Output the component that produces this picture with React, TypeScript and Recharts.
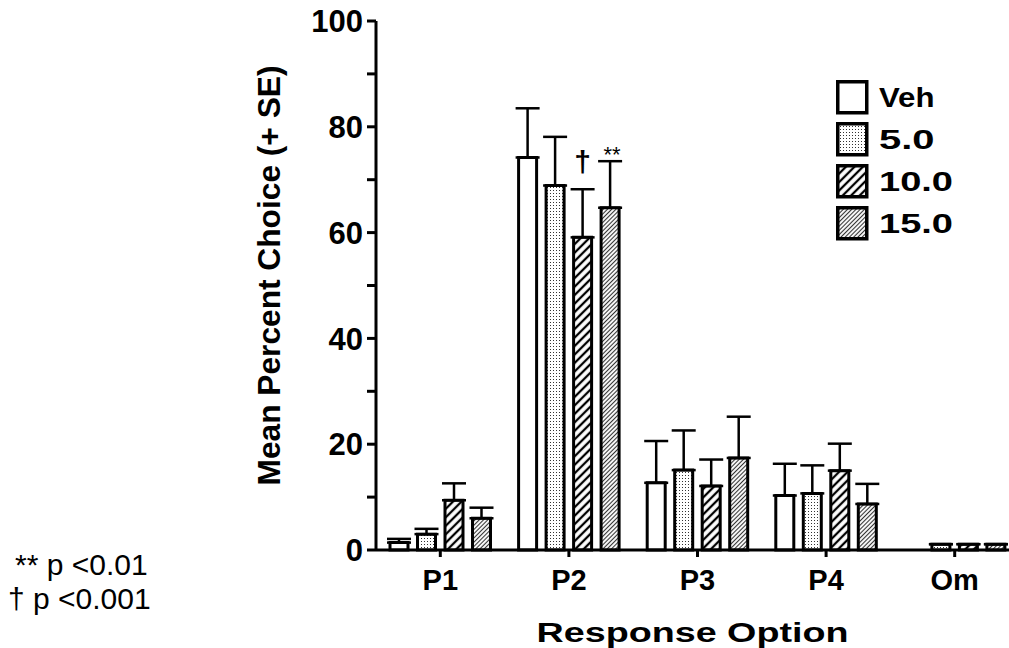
import React from 'react';
import { BarChart, Bar, XAxis, YAxis, ErrorBar } from 'recharts';

const categories = ['P1', 'P2', 'P3', 'P4', 'Om'];
const vehMean = [1.4, 74.2, 12.7, 10.3, null];
const vehSE = [0.7, 9.3, 7.9, 6.0, null];
const d5Mean = [3.0, 68.9, 15.1, 10.7, 1.1];
const d5SE = [1.0, 9.2, 7.5, 5.3, 0];
const d10Mean = [9.4, 59.1, 12.1, 15.0, 1.1];
const d10SE = [3.2, 9.1, 5.0, 5.1, 0];
const d15Mean = [6.0, 64.7, 17.4, 8.7, 1.1];
const d15SE = [2.0, 8.8, 7.8, 3.8, 0];
const d10Notes = ['', '†', '', '', ''];
const d15Notes = ['', '**', '', '', ''];
const yTicks = [0, 10, 20, 30, 40, 50, 60, 70, 80, 90, 100];

const seriesInfo = [
  { key: 'veh', name: 'Veh', fill: '#ffffff' },
  { key: 'd5', name: '5.0', fill: 'url(#dots)' },
  { key: 'd10', name: '10.0', fill: 'url(#hatchWide)' },
  { key: 'd15', name: '15.0', fill: 'url(#hatchFine)' },
];

const data = categories.map((name, i) => ({
  name,
  veh: vehMean[i],
  vehErr: vehSE[i] == null ? null : [0, vehSE[i]],
  d5: d5Mean[i],
  d5Err: [0, d5SE[i]],
  d10: d10Mean[i],
  d10Err: [0, d10SE[i]],
  d15: d15Mean[i],
  d15Err: [0, d15SE[i]],
}));

const FONT = '"Liberation Sans", Arial, sans-serif';

function YTick(props: any) {
  const { x, y, payload } = props;
  if (payload.value % 20 !== 0) return <g />;
  return (
    <text x={x - 2} y={y} dy="0.36em" textAnchor="end" fontFamily={FONT} fontWeight="bold" fontSize={31} fill="#000">
      {payload.value}
    </text>
  );
}

function XTick(props: any) {
  const { x, y, payload } = props;
  return (
    <text x={x} y={y + 31} textAnchor="middle" fontFamily={FONT} fontWeight="bold" fontSize={29} fill="#000">
      {payload.value}
    </text>
  );
}

function YTitle(props: any) {
  const { viewBox } = props;
  const cx = viewBox.x - 16;
  const cy = viewBox.y + viewBox.height / 2 - 10;
  return (
    <text
      x={cx}
      y={cy}
      transform={`rotate(-90 ${cx} ${cy})`}
      textAnchor="middle"
      fontFamily={FONT}
      fontWeight="bold"
      fontSize={32}
      textLength={420}
      lengthAdjust="spacingAndGlyphs"
      fill="#000"
    >
      Mean Percent Choice (+ SE)
    </text>
  );
}

function XTitle(props: any) {
  const { viewBox } = props;
  const cx = viewBox.x + viewBox.width / 2 - 5;
  return (
    <text
      x={cx}
      y={viewBox.y + 92}
      textAnchor="middle"
      fontFamily={FONT}
      fontWeight="bold"
      fontSize={27}
      textLength={312}
      lengthAdjust="spacingAndGlyphs"
      fill="#000"
    >
      Response Option
    </text>
  );
}

// † and ** over the error bar: height/value gives the px per unit of the bar's own scale
function makeNote(notes: string[], se: number[], big: boolean) {
  return (p: any) => {
    const note = notes[p.index];
    if (!note || !p.value) return <g />;
    const perUnit = p.height / p.value;
    const top = p.y - se[p.index] * perUnit;
    return (
      <text
        x={p.x + p.width / 2 + (big ? 0 : 2)}
        y={big ? top - 17 : top + 1}
        textAnchor="middle"
        fontFamily={FONT}
        fontWeight={big ? 'bold' : 'normal'}
        fontSize={big ? 30 : 22}
        fill="#000"
      >
        {note}
      </text>
    );
  };
}

function LegendBox() {
  return (
    <div style={{ position: 'absolute', left: 836, top: 76, display: 'flex', flexDirection: 'column' }}>
      {seriesInfo.map((s) => (
        <div key={s.key} style={{ display: 'flex', alignItems: 'center', height: 42 }}>
          <svg width={33} height={35}>
            <rect x={1.75} y={1.75} width={29} height={31} fill={s.fill} stroke="#000" strokeWidth={3.5} />
          </svg>
          <svg width={90} height={34}>
            <text
              x={10}
              y={27}
              fontFamily={FONT}
              fontWeight="bold"
              fontSize={27}
              textLength={s.name.length * 18.5}
              lengthAdjust="spacingAndGlyphs"
              fill="#000"
            >
              {s.name}
            </text>
          </svg>
        </div>
      ))}
    </div>
  );
}

export default function App() {
  return (
    <div style={{ position: 'fixed', left: 0, top: 0, width: 1009, height: 648, overflow: 'hidden', background: '#fff' }}>
      <BarChart
        width={1040}
        height={648}
        data={data}
        margin={{ top: 21, right: 21, left: 296, bottom: 38 }}
        barSize={18}
        barGap={9.5}
      >
        <defs>
          <pattern id="dots" width={3} height={3} patternUnits="userSpaceOnUse">
            <rect width={3} height={3} fill="#ffffff" />
            <rect x={1} y={1} width={1} height={1} fill="#333333" />
          </pattern>
          <pattern id="hatchWide" width={6} height={6} patternUnits="userSpaceOnUse" patternTransform="rotate(45)">
            <rect width={6} height={6} fill="#ffffff" />
            <line x1={3} y1={0} x2={3} y2={6} stroke="#000" strokeWidth={2.3} />
          </pattern>
          <pattern id="hatchFine" width={3} height={3} patternUnits="userSpaceOnUse" patternTransform="rotate(45)">
            <rect width={3} height={3} fill="#ffffff" />
            <line x1={1.5} y1={0} x2={1.5} y2={3} stroke="#333" strokeWidth={1.1} />
          </pattern>
        </defs>
        <XAxis
          dataKey="name"
          height={60}
          tickSize={7}
          tickLine={{ stroke: '#000', strokeWidth: 3 }}
          axisLine={{ stroke: '#000', strokeWidth: 3 }}
          tick={<XTick />}
          label={{ content: XTitle }}
        />
        <YAxis
          width={80}
          domain={[0, 100]}
          ticks={yTicks}
          interval={0}
          tickSize={9}
          tickLine={{ stroke: '#000', strokeWidth: 3 }}
          axisLine={{ stroke: '#000', strokeWidth: 3 }}
          tick={<YTick />}
          label={{ content: YTitle }}
        />
        <Bar dataKey="veh" name="Veh" fill="#ffffff" stroke="#000" strokeWidth={3} isAnimationActive={false}>
          <ErrorBar dataKey="vehErr" width={12} stroke="#000" strokeWidth={2.5} isAnimationActive={false} />
        </Bar>
        <Bar dataKey="d5" name="5.0" fill="url(#dots)" stroke="#000" strokeWidth={3} isAnimationActive={false}>
          <ErrorBar dataKey="d5Err" width={12} stroke="#000" strokeWidth={2.5} isAnimationActive={false} />
        </Bar>
        <Bar
          dataKey="d10"
          name="10.0"
          fill="url(#hatchWide)"
          stroke="#000"
          strokeWidth={3}
          isAnimationActive={false}
          label={makeNote(d10Notes, d10SE, true)}
        >
          <ErrorBar dataKey="d10Err" width={12} stroke="#000" strokeWidth={2.5} isAnimationActive={false} />
        </Bar>
        <Bar
          dataKey="d15"
          name="15.0"
          fill="url(#hatchFine)"
          stroke="#000"
          strokeWidth={3}
          isAnimationActive={false}
          label={makeNote(d15Notes, d15SE, false)}
        >
          <ErrorBar dataKey="d15Err" width={12} stroke="#000" strokeWidth={2.5} isAnimationActive={false} />
        </Bar>
      </BarChart>
      <LegendBox />
      <div style={{ position: 'absolute', left: 15, top: 548, fontFamily: FONT, fontSize: 30, lineHeight: '34px', color: '#000' }}>
        ** p &lt;0.01
      </div>
      <div style={{ position: 'absolute', left: 8, top: 582, fontFamily: FONT, fontSize: 30, lineHeight: '34px', color: '#000' }}>
        † p &lt;0.001
      </div>
    </div>
  );
}
